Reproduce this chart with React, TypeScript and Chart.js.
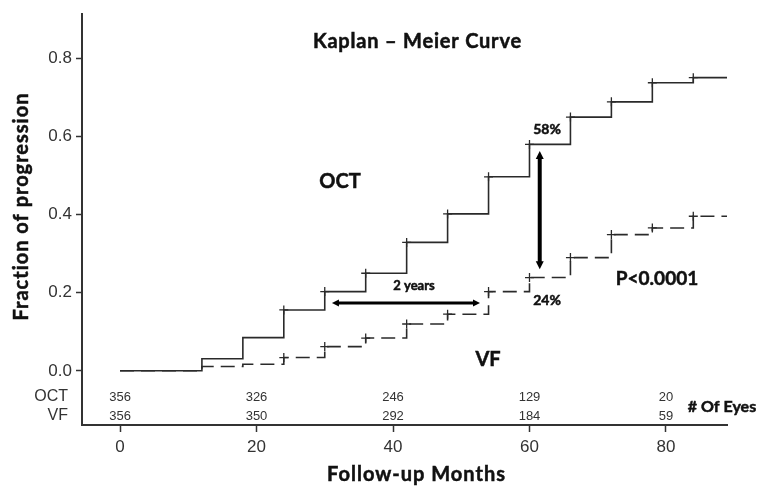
import React, { useEffect, useRef } from "react";
import { Chart, registerables } from "chart.js";

Chart.register(...registerables);

// ---- Data ----
const months = [0, 12, 18, 24, 30, 36, 42, 48, 54, 60, 66, 72, 78, 84, 89];
const octFraction = [0, 0.031, 0.085, 0.156, 0.203, 0.25, 0.329, 0.402, 0.497, 0.58, 0.65, 0.689, 0.738, 0.751, 0.751];
const vfFraction = [0, 0.011, 0.017, 0.034, 0.062, 0.084, 0.12, 0.145, 0.203, 0.239, 0.29, 0.349, 0.366, 0.396, 0.396];
const octCensorMonths = [24, 30, 36, 42, 48, 54, 60, 66, 72, 78, 84];
const vfCensorMonths = [24, 30, 36, 42, 48, 54, 60, 66, 72, 78, 84];
const xTicks = [0, 20, 40, 60, 80];
const yTicks = [0, 0.2, 0.4, 0.6, 0.8];
const riskMonths = [0, 20, 40, 60, 80];
const octAtRisk = [356, 326, 246, 129, 20];
const vfAtRisk = [356, 350, 292, 184, 59];

const INK = "#2a2a2a";
const BOLD = "Lato, 'Open Sans', sans-serif";
const PLAIN = "'Liberation Sans', Arial, sans-serif";

function stepValue(times: number[], vals: number[], t: number) {
  let v = vals[0];
  for (let i = 0; i < times.length; i++) if (times[i] <= t) v = vals[i];
  return v;
}

function drawArrow(ctx: CanvasRenderingContext2D, x1: number, y1: number, x2: number, y2: number, w: number, hl: number, hw: number) {
  const ang = Math.atan2(y2 - y1, x2 - x1);
  const cos = Math.cos(ang), sin = Math.sin(ang);
  ctx.lineWidth = w;
  ctx.beginPath();
  ctx.moveTo(x1 + cos * hl * 0.8, y1 + sin * hl * 0.8);
  ctx.lineTo(x2 - cos * hl * 0.8, y2 - sin * hl * 0.8);
  ctx.stroke();
  const head = (tx: number, ty: number, dir: number) => {
    const bx = tx - cos * hl * dir, by = ty - sin * hl * dir;
    ctx.beginPath();
    ctx.moveTo(tx, ty);
    ctx.lineTo(bx - sin * hw, by + cos * hw);
    ctx.lineTo(bx + sin * hw, by - cos * hw);
    ctx.closePath();
    ctx.fill();
  };
  head(x2, y2, 1);
  head(x1, y1, -1);
}

const textLabels = [
  { text: "Kaplan – Meier Curve", x: 417, y: 42, size: 20, spacing: 0.8 },
  { text: "OCT", x: 340, y: 182, size: 20, spacing: 0 },
  { text: "VF", x: 488, y: 360, size: 20, spacing: 0 },
  { text: "58%", x: 547, y: 129, size: 14, spacing: 0 },
  { text: "24%", x: 547, y: 300, size: 14, spacing: 0 },
  { text: "P<0.0001", x: 657, y: 279, size: 19, spacing: 0 },
  { text: "2 years", x: 414, y: 286, size: 13, spacing: 0 },
  { text: "# Of Eyes", x: 722, y: 407, size: 16, spacing: 0 },
  { text: "Follow-up Months", x: 416, y: 475, size: 20, spacing: 1 },
];

function boldText(ctx: any, text: string, x: number, y: number, size: number, spacing: number) {
  ctx.font = `bold ${size}px ${BOLD}`;
  ctx.letterSpacing = `${spacing}px`;
  ctx.lineWidth = 0.5;
  ctx.fillText(text, x + spacing / 2, y);
  ctx.strokeText(text, x + spacing / 2, y);
  ctx.letterSpacing = "0px";
}

const annotationPlugin = {
  id: "kmAnnotations",
  afterDraw(chart: any) {
    const { ctx, scales } = chart;
    const xs = scales.x, ys = scales.y;
    ctx.save();
    ctx.fillStyle = "#111";
    ctx.strokeStyle = "#111";
    ctx.textAlign = "center";
    ctx.textBaseline = "middle";
    for (const l of textLabels) boldText(ctx, l.text, l.x, l.y, l.size, l.spacing);
    // y axis title
    ctx.save();
    ctx.translate(22, 207);
    ctx.rotate(-Math.PI / 2);
    boldText(ctx, "Fraction of progression", 0, 0, 20, 1);
    ctx.restore();

    // arrows
    ctx.fillStyle = "#000";
    ctx.strokeStyle = "#000";
    drawArrow(ctx, xs.getPixelForValue(31.05), ys.getPixelForValue(0.174), xs.getPixelForValue(52.75), ys.getPixelForValue(0.174), 3, 7, 3.5);
    drawArrow(ctx, xs.getPixelForValue(61.5), ys.getPixelForValue(0.563), xs.getPixelForValue(61.5), ys.getPixelForValue(0.26), 4, 8, 4);

    // numbers at risk
    ctx.fillStyle = "#333";
    ctx.font = `16px ${PLAIN}`;
    ctx.textAlign = "right";
    ctx.fillText("OCT", 68, 397);
    ctx.fillText("VF", 68, 416);
    ctx.textAlign = "center";
    ctx.font = `13px ${PLAIN}`;
    riskMonths.forEach((m, i) => {
      const px = xs.getPixelForValue(m);
      ctx.fillText(String(octAtRisk[i]), px, 397);
      ctx.fillText(String(vfAtRisk[i]), px, 416);
    });
    ctx.restore();
  },
};

export default function App() {
  const ref = useRef<HTMLCanvasElement | null>(null);
  useEffect(() => {
    if (!ref.current) return;
    const lineStyle = { borderColor: INK, borderWidth: 1.6, pointRadius: 0, stepped: true as const, fill: false, tension: 0 };
    const cross = { type: "scatter" as const, pointStyle: "cross", pointRadius: 4.5, pointBorderWidth: 1.3, pointBorderColor: INK, borderColor: INK, backgroundColor: INK, showLine: false };
    const chart = new Chart(ref.current, {
      type: "line",
      data: {
        datasets: [
          { label: "VF", data: months.map((m, i) => ({ x: m, y: vfFraction[i] })), borderDash: [14, 7], ...lineStyle },
          { label: "OCT", data: months.map((m, i) => ({ x: m, y: octFraction[i] })), ...lineStyle },
          { label: "VF censored", data: vfCensorMonths.map((m) => ({ x: m, y: stepValue(months, vfFraction, m) })), ...cross } as any,
          { label: "OCT censored", data: octCensorMonths.map((m) => ({ x: m, y: stepValue(months, octFraction, m) })), ...cross } as any,
        ],
      },
      options: {
        responsive: false,
        animation: false,
        layout: { padding: { top: 8, right: 35, left: 0, bottom: 0 } },
        plugins: { legend: { display: false }, tooltip: { enabled: false }, title: { display: false } },
        scales: {
          x: {
            type: "linear",
            min: -5.57,
            max: 88.94,
            afterFit: (s: any) => { s.height = 68; },
            afterBuildTicks: (s: any) => { s.ticks = xTicks.map((v) => ({ value: v })); },
            grid: { drawOnChartArea: false, drawTicks: true, tickLength: 7, tickColor: "#333", tickWidth: 1.5 } as any,
            border: { display: true, color: "#333", width: 2 },
            ticks: { padding: 5, color: "#333", font: { family: PLAIN, size: 17 }, callback: (v: any) => String(v), autoSkip: false, maxRotation: 0 },
          },
          y: {
            type: "linear",
            min: -0.1388,
            max: 0.9136,
            afterFit: (s: any) => { s.width = 82; },
            afterBuildTicks: (s: any) => { s.ticks = yTicks.map((v) => ({ value: v })); },
            grid: { drawOnChartArea: false, drawTicks: true, tickLength: 6, tickColor: "#333", tickWidth: 1.5 } as any,
            border: { display: true, color: "#333", width: 2 },
            ticks: { padding: 4, color: "#333", font: { family: PLAIN, size: 17 }, callback: (v: any) => Number(v).toFixed(1), autoSkip: false },
          },
        },
      },
      plugins: [annotationPlugin],
    });
    return () => chart.destroy();
  }, []);
  return (
    <div style={{ position: "fixed", left: 0, top: 0, width: 762, height: 493, background: "#fff" }}>
      <canvas ref={ref} width={762} height={493} style={{ display: "block" }} />
    </div>
  );
}
